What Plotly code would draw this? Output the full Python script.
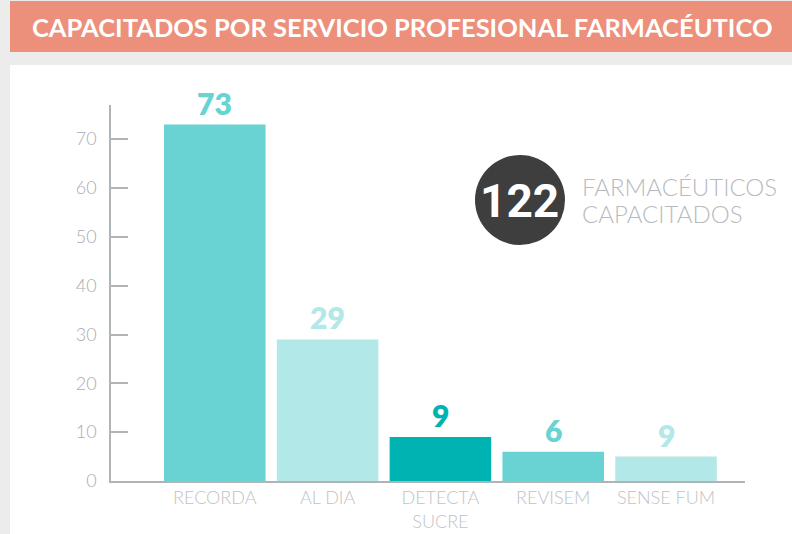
import plotly.graph_objects as go

# data
categories = ["RECORDA", "AL DIA", "DETECTA<br>SUCRE", "REVISEM", "SENSE FUM"]
values = [73, 29, 9, 6, 5]
value_labels = ["73", "29", "9", "6", "9"]
bar_colors = ["#68D3D2", "#B3E8E8", "#00B3B3", "#68D3D2", "#B3E8E8"]
y_ticks = [0, 10, 20, 30, 40, 50, 60, 70]
total = "122"

W, H = 792, 534
# plot area in pixels
L, R, T, B = 111, 745, 105, 481


def px(x):
    return (x - L) / (R - L)


def py(y):
    return (B - y) / (B - T)


fig = go.Figure()
fig.add_trace(go.Bar(
    x=list(range(len(categories))), y=values,
    marker=dict(color=bar_colors, line=dict(width=0)),
    width=0.9, hoverinfo="skip",
))

annotations = []
for i, (v, lab, c) in enumerate(zip(values, value_labels, bar_colors)):
    annotations.append(dict(
        x=i, y=v, xref="x", yref="y", text=lab, showarrow=False,
        yanchor="bottom", yshift=2,
        font=dict(family="Lato", size=30, color=c, weight=800),
    ))

# title
annotations.append(dict(
    x=px(402), y=py(27), xref="paper", yref="paper",
    text="CAPACITADOS POR SERVICIO PROFESIONAL FARMACÉUTICO",
    showarrow=False, xanchor="center", yanchor="middle",
    font=dict(family="Lato", size=25.5, color="white", weight=700),
))
# circle number + caption
annotations.append(dict(
    x=px(519), y=py(201), xref="paper", yref="paper", text=total,
    showarrow=False, xanchor="center", yanchor="middle",
    font=dict(family="Liberation Sans Narrow, Roboto", size=46,
              color="white", weight=700),
))
annotations.append(dict(
    x=px(580), y=py(186), xref="paper", yref="paper", text="FARMACÉUTICOS",
    showarrow=False, xanchor="left", yanchor="middle",
    font=dict(family="Lato", size=24, color="#B7BBBE", weight=300),
))
annotations.append(dict(
    x=px(580), y=py(213), xref="paper", yref="paper", text="CAPACITADOS",
    showarrow=False, xanchor="left", yanchor="middle",
    font=dict(family="Lato", size=24, color="#B7BBBE", weight=300),
))

shapes = [
    # white panel
    dict(type="rect", xref="paper", yref="paper", layer="below",
         x0=px(10), x1=px(792), y0=py(534), y1=py(65),
         fillcolor="white", line=dict(width=0)),
    # title band
    dict(type="rect", xref="paper", yref="paper", layer="below",
         x0=px(10), x1=px(792), y0=py(52), y1=py(1),
         fillcolor="#EC8F7B", line=dict(width=0)),
    # dark circle
    dict(type="circle", xref="paper", yref="paper",
         x0=px(475), x1=px(565), y0=py(245), y1=py(155),
         fillcolor="#3E3E3E", line=dict(width=0)),
]

fig.update_layout(
    width=W, height=H,
    margin=dict(l=L, r=W - R, t=T, b=H - B, autoexpand=False),
    paper_bgcolor="#EBECEB", plot_bgcolor="white",
    showlegend=False, bargap=0.1,
    annotations=annotations, shapes=shapes,
    xaxis=dict(
        range=[-0.92, 4.7], tickvals=list(range(len(categories))),
        ticktext=categories, showgrid=False, zeroline=False,
        showline=True, linecolor="#B0B4B7", linewidth=1.5, ticks="",
        automargin=False,
        tickfont=dict(family="Lato", size=18, color="#BFC3C6", weight=300),
    ),
    yaxis=dict(
        range=[0, 77], tickvals=y_ticks, showgrid=False, zeroline=False,
        showline=True, linecolor="#B0B4B7", linewidth=1.5,
        ticks="inside", ticklen=17, tickcolor="#B0B4B7", tickwidth=1.5,
        ticklabelstandoff=9, automargin=False,
        tickfont=dict(family="Lato", size=18, color="#A9ADB1", weight=300),
    ),
)

fig.write_html(
    "out.html",
    config={"displayModeBar": False},
    post_script="document.body.style.margin='0';document.body.style.overflow='hidden';",
)
